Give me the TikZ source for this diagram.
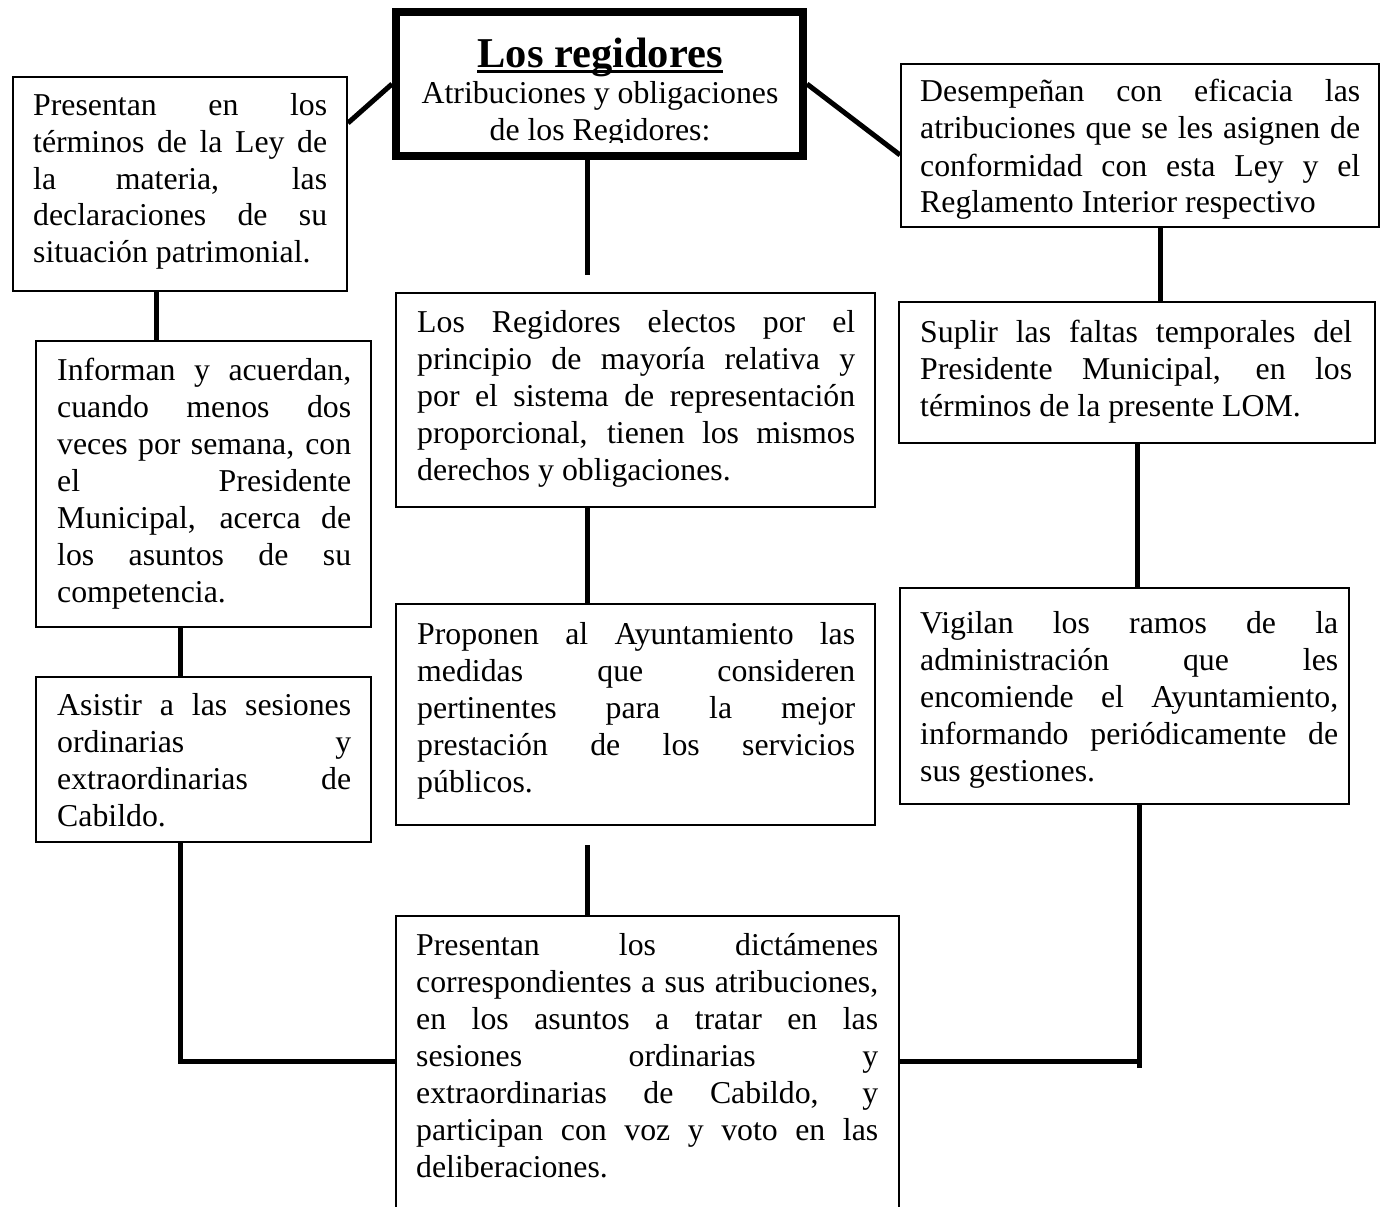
\documentclass[tikz,border=0pt]{standalone}
\usepackage{fontspec}
\setmainfont{Liberation Serif}
\newcommand\bodyfont{\fontsize{31.8}{37}\selectfont}
\newcommand\titlefont{\fontsize{42.5}{48}\selectfont\bfseries}
\newcommand\jl[1]{\makebox[\linewidth][s]{#1}\par}
\begin{document}
\begin{tikzpicture}[x=1pt,y=-1pt,
  box/.style={draw, line width=2pt, inner sep=0pt},
  txt/.style={anchor=base west, inner sep=0pt, font=\bodyfont},
  ttl/.style={anchor=base, inner sep=0pt},
  conn/.style={line width=5pt}]
\useasboundingbox (0,0) rectangle (1390,1207);
\clip (0,0) rectangle (1390,1207);
\fill[white] (0,0) rectangle (1390,1207);

% title
\node[draw, line width=8pt, inner sep=0pt, minimum width=407pt, minimum height=144pt] (T) at (599.5,84) {};
\begin{scope}
\clip (400,16) rectangle (799,142);
\node[ttl, font=\titlefont] (T1) at (600,67) {Los regidores};
\node[ttl, font=\bodyfont] (T2) at (600,103) {Atribuciones y obligaciones};
\node[ttl, font=\bodyfont] (T3) at (600,140) {de los Regidores:};
\end{scope}
\draw[line width=2.2pt] ([yshift=-4.5pt]T1.base west) -- ([yshift=-4.5pt]T1.base east);

% boxes
\node[box, minimum width=334pt, minimum height=214pt] (A) at (180,184) {};
\node[txt] (At) at (33,115) {\parbox[t]{294pt}{%
\jl{Presentan en los}\jl{términos de la Ley de}\jl{la materia, las}\jl{declaraciones de su}situación patrimonial.}};

\node[box, minimum width=478pt, minimum height=163pt] (B) at (1140,145.5) {};
\node[txt] (Bt) at (920,102) {\parbox[t]{440pt}{%
\jl{Desempeñan con eficacia las}\jl{atribuciones que se les asignen de}\jl{conformidad con esta Ley y el}Reglamento Interior respectivo}};

\node[box, minimum width=479pt, minimum height=214pt] (C) at (635.5,400) {};
\node[txt] (Ct) at (417,332) {\parbox[t]{438pt}{%
\jl{Los Regidores electos por el}\jl{principio de mayoría relativa y}\jl{por el sistema de representación}\jl{proporcional, tienen los mismos}derechos y obligaciones.}};

\node[box, minimum width=335pt, minimum height=286pt] (D) at (203.5,484) {};
\node[txt] (Dt) at (57,380) {\parbox[t]{294pt}{%
\jl{Informan y acuerdan,}\jl{cuando menos dos}\jl{veces por semana, con}\jl{el Presidente}\jl{Municipal, acerca de}\jl{los asuntos de su}competencia.}};

\node[box, minimum width=476pt, minimum height=141pt] (E) at (1137,372.5) {};
\node[txt] (Et) at (920,342) {\parbox[t]{432pt}{%
\jl{Suplir las faltas temporales del}\jl{Presidente Municipal, en los}términos de la presente LOM.}};

\node[box, minimum width=479pt, minimum height=221pt] (F) at (635.5,714.5) {};
\node[txt] (Ft) at (417,644) {\parbox[t]{438pt}{%
\jl{Proponen al Ayuntamiento las}\jl{medidas que consideren}\jl{pertinentes para la mejor}\jl{prestación de los servicios}públicos.}};

\node[box, minimum width=335pt, minimum height=165pt] (G) at (203.5,759.5) {};
\node[txt] (Gt) at (57,715) {\parbox[t]{294pt}{%
\jl{Asistir a las sesiones}\jl{ordinarias y}\jl{extraordinarias de}Cabildo.}};

\node[box, minimum width=449pt, minimum height=216pt] (H) at (1124.5,696) {};
\node[txt] (Ht) at (920,633) {\parbox[t]{418pt}{%
\jl{Vigilan los ramos de la}\jl{administración que les}\jl{encomiende el Ayuntamiento,}\jl{informando periódicamente de}sus gestiones.}};

\node[box, minimum width=503pt, minimum height=314pt] (I) at (647.5,1073) {};
\node[txt] (It) at (416,955) {\parbox[t]{462pt}{%
\jl{Presentan los dictámenes}\jl{correspondientes a sus atribuciones,}\jl{en los asuntos a tratar en las}\jl{sesiones ordinarias y}\jl{extraordinarias de Cabildo, y}\jl{participan con voz y voto en las}deliberaciones.}};

% connectors
\coordinate (la) at (0,123);
\coordinate (ra) at (0,155);
\draw[conn] (T.west) -- (A.east |- la);
\draw[conn] (T.east) -- (B.west |- ra);

\coordinate (xAD) at (156,0);
\coordinate (xDG) at (180,0);
\coordinate (yb) at (0,1061);
\draw[conn] (A.south -| xAD) -- (D.north -| xAD);
\draw[conn] (D.south -| xDG) -- (G.north -| xDG);
\draw[conn] (G.south -| xDG) |- (I.west |- yb);

\coordinate (xM) at (587,0);
\coordinate (tEnd) at (587,275);
\coordinate (fStart) at (587,845);
\draw[conn] (T.south -| xM) -- (tEnd);
\draw[conn] (C.south -| xM) -- (F.north -| xM);
\draw[conn] (fStart) -- (I.north -| xM);

\coordinate (xBE) at (1160,0);
\coordinate (xEH) at (1137,0);
\coordinate (xH) at (1139,0);
\coordinate (hEnd) at (1139,1068);
\draw[conn] (B.south -| xBE) -- (E.north -| xBE);
\draw[conn] (E.south -| xEH) -- (H.north -| xEH);
\draw[conn] (H.south -| xH) -- (hEnd);
\draw[conn] (I.east |- yb) -- (xH |- yb);
\end{tikzpicture}
\end{document}
